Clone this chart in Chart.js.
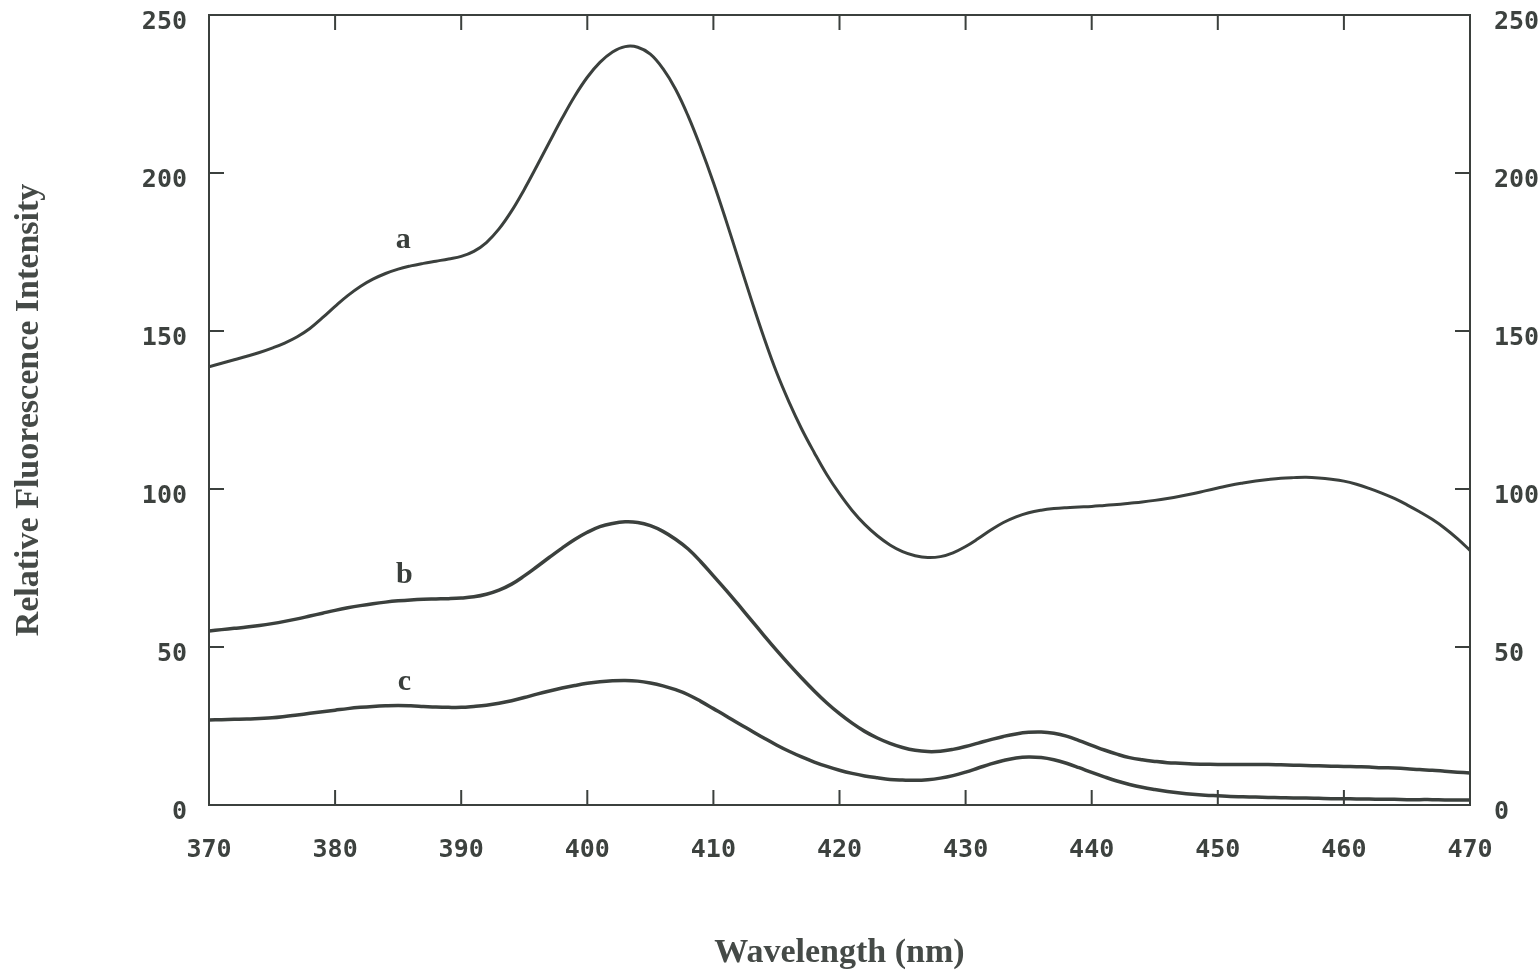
<!DOCTYPE html>
<html>
<head>
<meta charset="utf-8">
<title>Relative Fluorescence Intensity</title>
<script src="https://cdn.jsdelivr.net/npm/chart.js@4/dist/chart.umd.min.js"></script>
<style>
  html, body { margin: 0; padding: 0; background: #fff; }
  canvas { display: block; }
</style>
</head>
<body>
<canvas id="myChart" width="1540" height="974"></canvas>
<script>

// wavelength, 1 nm steps from 370 to 470
const wavelengths = [];
for (let nm = 370; nm <= 470; nm++) wavelengths.push(nm);

// curve a
const curveA = [
  138.7, 139.8, 140.9, 142, 143.2, 144.6, 146.2, 148.2, 150.8, 154.2,
  157.8, 161.2, 164.1, 166.4, 168.2, 169.6, 170.6, 171.4, 172.1, 172.8,
  173.6, 175.2, 178, 182.3, 188, 194.8, 202.2, 209.8, 217.3, 224.3,
  230.3, 235, 238.3, 240, 239.8, 237.6, 233, 226.5, 218, 208,
  197, 185, 172.5, 160, 148, 137, 127.5, 119, 111.5, 104.5,
  98.5, 93.2, 88.8, 85.2, 82.3, 80.2, 78.9, 78.3, 78.6, 79.8,
  81.8, 84.3, 87, 89.4, 91.2, 92.5, 93.3, 93.8, 94.1, 94.3,
  94.5, 94.8, 95.1, 95.5, 95.9, 96.4, 97, 97.7, 98.5, 99.4,
  100.3, 101.2, 101.9, 102.5, 103, 103.4, 103.6, 103.7, 103.5, 103.1,
  102.5, 101.5, 100.2, 98.7, 97, 95, 92.8, 90.4, 87.6, 84.3,
  80.6
];

// curve b
const curveB = [
  55.1, 55.5, 55.9, 56.3, 56.8, 57.4, 58.1, 58.9, 59.8, 60.7,
  61.6, 62.4, 63.1, 63.7, 64.2, 64.6, 64.9, 65.1, 65.2, 65.3,
  65.5, 65.9, 66.7, 68, 69.9, 72.5, 75.4, 78.4, 81.3, 84,
  86.3, 88.1, 89.1, 89.6, 89.4, 88.4, 86.6, 84.1, 81, 77,
  72.5, 68, 63.3, 58.5, 53.7, 49, 44.5, 40.2, 36.1, 32.3,
  28.9, 25.9, 23.3, 21.2, 19.5, 18.2, 17.3, 16.9, 17, 17.6,
  18.5, 19.6, 20.7, 21.7, 22.5, 23, 23.1, 22.7, 21.8, 20.4,
  18.9, 17.4, 16.1, 15, 14.3, 13.8, 13.4, 13.2, 13, 12.9,
  12.8, 12.8, 12.8, 12.8, 12.8, 12.7, 12.6, 12.5, 12.4, 12.3,
  12.2, 12.1, 12, 11.8, 11.7, 11.5, 11.2, 11, 10.7, 10.4,
  10.1
];

// curve c
const curveC = [
  26.9, 27, 27.1, 27.2, 27.4, 27.6, 28, 28.5, 29, 29.5,
  30, 30.5, 30.9, 31.2, 31.4, 31.5, 31.4, 31.2, 31, 30.9,
  30.9, 31.2, 31.6, 32.2, 33, 34, 35.1, 36.1, 37, 37.8,
  38.5, 39, 39.3, 39.4, 39.2, 38.6, 37.7, 36.5, 34.9, 32.8,
  30.5, 28.2, 25.8, 23.5, 21.2, 19, 17, 15.2, 13.6, 12.2,
  11, 10, 9.2, 8.6, 8.1, 7.9, 7.8, 8, 8.5, 9.3,
  10.4, 11.7, 13, 14.1, 14.9, 15.2, 15, 14.3, 13.2, 11.8,
  10.3, 8.9, 7.6, 6.5, 5.6, 4.9, 4.3, 3.8, 3.4, 3.1,
  2.9, 2.7, 2.6, 2.5, 2.4, 2.3, 2.2, 2.2, 2.1, 2.0,
  2.0, 1.9, 1.9, 1.8, 1.8, 1.7, 1.7, 1.7, 1.6, 1.6,
  1.6
];

const curveNames = ["a", "b", "c"];
// where the letters sit, in data units (nm, intensity)
const nameAt = [[385.4, 178.8], [385.5, 72.8], [385.5, 38.9]];

const xTicks = [370, 380, 390, 400, 410, 420, 430, 440, 450, 460, 470];
const yTicks = [0, 50, 100, 150, 200, 250];

const ink = "#3b403d";

function toPoints(vals){
    let pts = [];
    for(let i = 0; i < wavelengths.length; i++){
        pts.push({x: wavelengths[i], y: vals[i]});
    }
    return pts;
}

// short tick marks pointing into the plot, on all four sides
const innerTicks = {
    id: "innerTicks",
    afterDraw(chart){
        const ctx = chart.ctx;
        const area = chart.chartArea;
        const len = 15;
        ctx.save();
        ctx.strokeStyle = ink;
        ctx.lineWidth = 2;
        ctx.beginPath();
        xTicks.forEach(v => {
            const px = chart.scales.x.getPixelForValue(v);
            ctx.moveTo(px, area.bottom); ctx.lineTo(px, area.bottom - len);
            ctx.moveTo(px, area.top); ctx.lineTo(px, area.top + len);
        });
        yTicks.forEach(v => {
            const py = chart.scales.y.getPixelForValue(v);
            ctx.moveTo(area.left, py); ctx.lineTo(area.left + len, py);
            ctx.moveTo(area.right, py); ctx.lineTo(area.right - len, py);
        });
        ctx.stroke();

        // curve letters
        ctx.fillStyle = "#3a3f3c";
        ctx.font = "bold 30px 'Liberation Serif', 'DejaVu Serif', serif";
        ctx.textAlign = "center";
        ctx.textBaseline = "middle";
        curveNames.forEach((name, i) => {
            const px = chart.scales.x.getPixelForValue(nameAt[i][0]);
            const py = chart.scales.y.getPixelForValue(nameAt[i][1]);
            ctx.fillText(name, px, py);
        });
        ctx.restore();
    }
};

const tickFont = {family: "'DejaVu Sans Mono', monospace", size: 25, weight: "bold"};
const titleFont = {family: "'Liberation Serif', 'DejaVu Serif', serif", size: 34, weight: "bold"};
const frame = {display: true, color: ink, width: 2};

function lineSet(vals, w){
    return {
        data: toPoints(vals),
        borderColor: ink,
        borderWidth: w,
        pointRadius: 0,
        fill: false,
        tension: 0.4
    };
}

// fixed sizes so the plot box lands where the reference has it
function fitH(h){
    return s => { s.height = h; s.paddingLeft = 0; s.paddingRight = 0; };
}
function fitW(w){
    return s => { s.width = w; s.paddingTop = 0; s.paddingBottom = 0; };
}

const ctx = document.getElementById("myChart").getContext("2d");

const myChart = new Chart(ctx, {
    type: "line",
    data: {
        datasets: [lineSet(curveA, 3), lineSet(curveB, 3.5), lineSet(curveC, 3.5)]
    },
    options: {
        responsive: false,
        animation: false,
        events: [],
        layout: {padding: 0},
        plugins: {legend: {display: false}, tooltip: {enabled: false}},
        scales: {
            x: {
                type: "linear", position: "bottom", min: 370, max: 470,
                afterBuildTicks: s => { s.ticks = xTicks.map(v => ({value: v})); },
                ticks: {font: tickFont, color: "#3d423f", padding: 30, maxRotation: 0, autoSkip: false},
                grid: {display: false, drawTicks: false},
                border: frame,
                title: {display: true, text: "Wavelength (nm)", font: titleFont, color: "#454a47", padding: {top: 0, bottom: 0}},
                afterFit: fitH(169)
            },
            x2: {
                type: "linear", position: "top", min: 370, max: 470,
                ticks: {display: false},
                grid: {display: false, drawTicks: false},
                border: frame,
                afterFit: fitH(15)
            },
            y: {
                type: "linear", position: "left", min: 0, max: 250,
                afterBuildTicks: s => { s.ticks = yTicks.map(v => ({value: v})); },
                ticks: {font: tickFont, color: "#3d423f", padding: 22, labelOffset: 7},
                grid: {display: false, drawTicks: false},
                border: frame,
                title: {display: true, text: "Relative Fluorescence Intensity", font: titleFont, color: "#454a47", padding: {top: 9, bottom: 0}},
                afterFit: fitW(209)
            },
            y2: {
                type: "linear", position: "right", min: 0, max: 250,
                afterBuildTicks: s => { s.ticks = yTicks.map(v => ({value: v})); },
                ticks: {font: tickFont, color: "#3d423f", padding: 24, labelOffset: 7},
                grid: {display: false, drawTicks: false},
                border: frame,
                afterFit: fitW(70)
            }
        }
    },
    plugins: [innerTicks]
});
</script>
</body>
</html>
